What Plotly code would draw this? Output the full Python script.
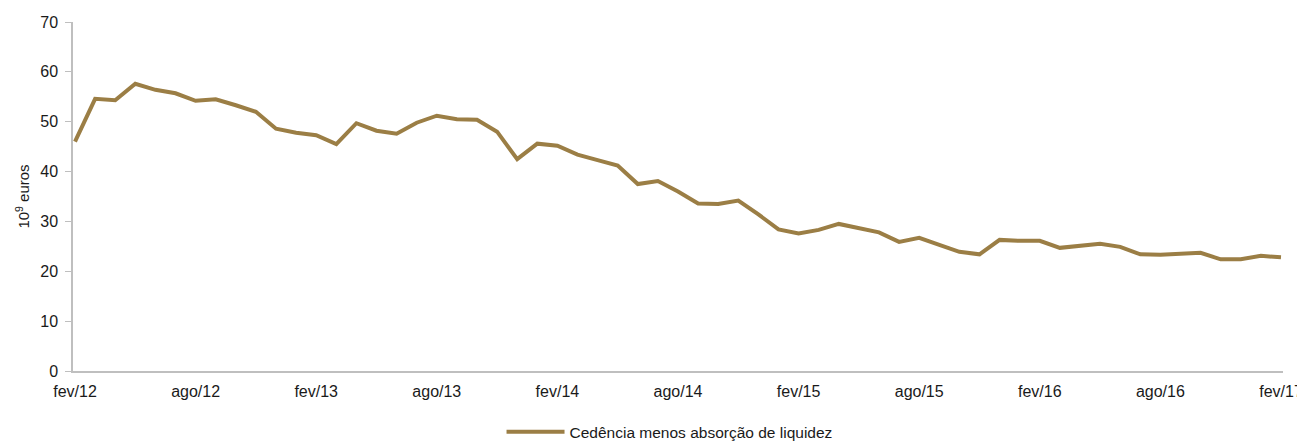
import plotly.graph_objects as go

# months fev/12 .. fev/17
MESES_PT = ["jan", "fev", "mar", "abr", "mai", "jun", "jul", "ago", "set", "out", "nov", "dez"]
months = [f"{MESES_PT[(1 + i) % 12]}/{12 + (1 + i) // 12}" for i in range(61)]

# Cedência menos absorção de liquidez (10^9 euros)
cedencia = [
    46.0, 54.6, 54.3, 57.6, 56.4, 55.7, 54.2, 54.5, 53.3, 52.0,
    48.6, 47.8, 47.3, 45.5, 49.7, 48.2, 47.6, 49.8, 51.2, 50.5,
    50.4, 48.0, 42.5, 45.6, 45.2, 43.4, 42.3, 41.2, 37.5, 38.1,
    36.0, 33.6, 33.5, 34.2, 31.4, 28.4, 27.6, 28.3, 29.5, 28.7,
    27.8, 25.9, 26.7, 25.3, 23.9, 23.4, 26.3, 26.1, 26.1, 24.7,
    25.1, 25.5, 24.9, 23.4, 23.3, 23.6, 23.7, 22.4, 22.4, 23.1,
    22.8,
]

tick_labels = months[::6]

LINE_COLOR = "#9B7E45"
AXIS_COLOR = "#BFBFBF"
TEXT = "#1a1a1a"
FONT = "Liberation Sans Narrow, Arial Narrow, Liberation Sans, Arial"

fig = go.Figure()
fig.add_trace(go.Scatter(
    x=months, y=cedencia, mode="lines",
    name="Cedência menos absorção de liquidez",
    line=dict(color=LINE_COLOR, width=4),
))

# the page body adds an 8px offset, so the figure is a bit smaller than the window
fig.update_layout(
    width=1297, height=433,
    margin=dict(l=65, r=22, t=14, b=70, autoexpand=False),
    paper_bgcolor="white", plot_bgcolor="white",
    font=dict(family=FONT, size=15, color=TEXT),
    showlegend=True,
    legend=dict(orientation="h", x=0.493, xanchor="center", y=-0.175, yanchor="middle",
                font=dict(size=15.5), itemwidth=58),
)
fig.update_xaxes(
    type="category", range=[-0.1, 60.1], automargin=False,
    tickvals=tick_labels, ticktext=tick_labels,
    showline=True, linecolor=AXIS_COLOR, linewidth=1.5,
    showgrid=False, zeroline=False, ticks="", tickfont=dict(size=16),
    ticklabelstandoff=5,
)
fig.update_yaxes(
    range=[0, 70], dtick=10, automargin=False,
    showline=True, linecolor=AXIS_COLOR, linewidth=1.5,
    showgrid=False, zeroline=False,
    ticks="outside", ticklen=6, tickcolor=AXIS_COLOR,
    tickfont=dict(size=16), ticklabelstandoff=4,
    title=dict(text="10<sup>9</sup> euros", font=dict(size=15), standoff=7),
)

fig.write_html("out.html")
